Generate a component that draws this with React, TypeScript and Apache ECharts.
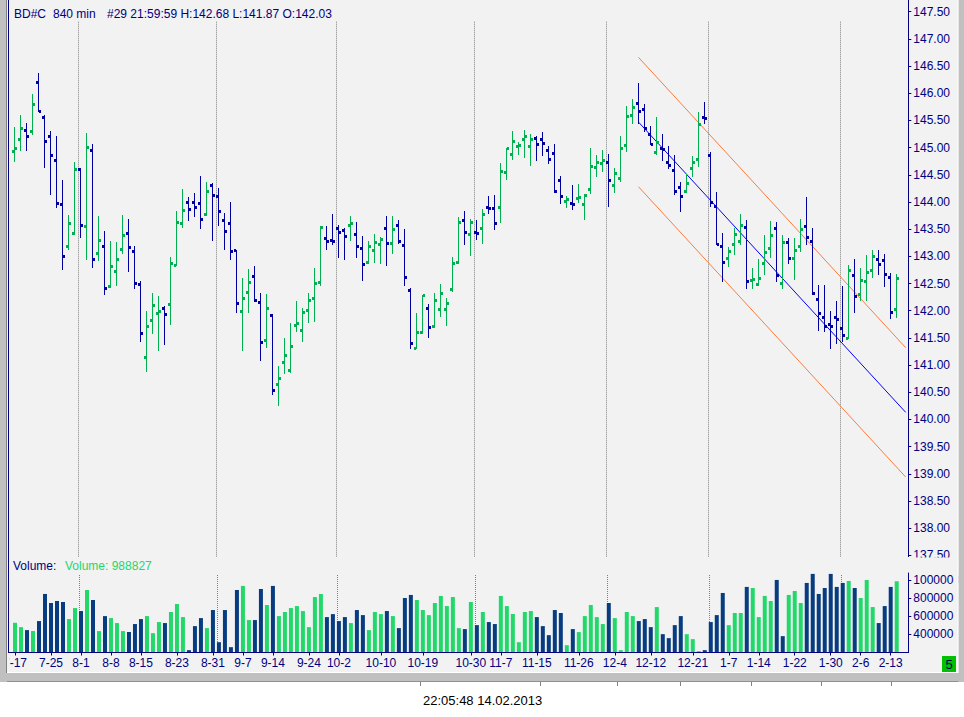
import React, { useEffect, useRef } from "react";
import * as echarts from "echarts";

// ---------- data ----------
const opens = [
  144.93, 145.15, 145.32, 145.30, 146.20, 145.56, 145.21, 144.77, 143.96, 143.18,
  143.42, 144.60, 143.55, 144.95, 143.06, 143.18, 142.45, 142.72, 143.13, 143.42,
  143.09, 142.49, 141.14, 141.82, 141.95, 142.04, 142.12, 142.83, 143.61, 143.99,
  143.99, 143.98, 143.77, 144.31, 144.10, 143.66, 143.61, 143.11, 141.99, 142.34,
  142.63, 142.15, 141.45, 141.91, 140.65, 141.05, 140.90, 141.73, 141.64, 142.01,
  142.23, 142.52, 143.33, 143.30, 143.52, 143.48, 143.57, 143.40, 143.15, 142.89,
  143.11, 143.22, 143.52, 143.24, 143.57, 143.20, 142.37, 141.31, 141.59, 142.04,
  141.70, 142.03, 142.03, 142.39, 142.89, 143.65, 143.40, 143.44, 143.52, 143.90,
  143.88, 143.90, 144.55, 144.88, 145.02, 145.15, 145.02, 145.17, 145.15, 144.95,
  144.89, 144.40, 144.01, 143.98, 144.07, 143.96, 144.23, 144.64, 144.71, 144.73,
  144.31, 144.44, 145.04, 145.59, 145.81, 145.70, 145.24, 144.91, 144.99, 144.73,
  144.58, 144.27, 144.20, 144.62, 144.78, 145.56, 144.86, 143.92, 143.18, 142.96,
  143.22, 143.28, 143.53, 142.55, 142.49, 142.87, 143.15, 143.52, 142.50, 143.26,
  142.96, 143.18, 143.55, 143.28, 142.21, 141.88, 141.75, 141.88, 141.68, 141.49,
  142.65, 142.30, 142.54, 142.74, 142.95, 142.93, 142.61, 142.03,
];
const highs = [
  145.38, 145.60, 145.45, 145.99, 146.37, 145.60, 145.31, 145.22, 144.40, 143.76,
  144.74, 144.62, 145.27, 145.07, 143.74, 143.47, 143.28, 143.27, 143.76, 143.69,
  143.19, 142.55, 141.99, 142.33, 142.27, 142.09, 142.98, 143.83, 144.24, 144.09,
  144.16, 144.48, 144.37, 144.34, 144.26, 143.80, 144.00, 143.12, 142.60, 142.77,
  142.82, 142.33, 142.31, 141.94, 140.98, 141.50, 141.77, 142.18, 142.05, 142.33,
  142.78, 143.56, 143.56, 143.78, 143.58, 143.52, 143.74, 143.63, 143.37, 143.28,
  143.41, 143.36, 143.74, 143.74, 143.67, 143.50, 142.41, 141.96, 142.29, 142.12,
  142.33, 142.49, 142.23, 142.99, 143.72, 143.83, 143.69, 143.67, 143.87, 144.11,
  144.13, 144.72, 144.99, 145.31, 145.10, 145.32, 145.25, 145.21, 145.29, 145.03,
  145.07, 144.48, 144.11, 144.31, 144.33, 144.15, 144.99, 144.86, 144.96, 144.88,
  144.62, 145.21, 145.77, 145.89, 146.19, 145.80, 145.40, 145.56, 145.25, 145.03,
  144.86, 144.37, 144.52, 144.85, 145.65, 145.84, 144.92, 144.18, 143.43, 143.18,
  143.53, 143.78, 143.66, 142.78, 142.95, 143.40, 143.65, 143.63, 143.40, 143.33,
  143.33, 143.69, 144.09, 143.52, 142.47, 142.47, 141.99, 142.17, 142.45, 142.84,
  142.95, 142.78, 143.02, 143.11, 143.11, 143.05, 142.69, 142.68,
];
const lows = [
  144.74, 144.94, 144.94, 145.24, 145.66, 144.63, 144.13, 143.88, 142.75, 143.11,
  143.40, 143.34, 142.93, 142.79, 142.91, 142.28, 142.42, 142.46, 143.05, 142.72,
  142.39, 141.43, 140.88, 141.57, 141.25, 141.37, 141.74, 142.82, 143.53, 143.65,
  143.72, 143.50, 143.75, 143.29, 143.56, 143.12, 142.94, 141.96, 141.26, 141.96,
  142.16, 141.08, 141.32, 140.44, 140.25, 140.84, 140.86, 141.61, 141.43, 141.78,
  141.80, 142.46, 143.12, 143.20, 142.96, 142.94, 143.29, 142.97, 142.55, 142.86,
  142.88, 142.86, 142.83, 143.05, 143.23, 142.46, 141.29, 141.29, 141.57, 141.50,
  141.69, 141.89, 141.72, 142.35, 142.86, 143.20, 143.01, 143.30, 143.23, 143.78,
  143.49, 143.62, 144.41, 144.78, 144.87, 144.81, 144.67, 144.76, 144.85, 144.70,
  144.17, 143.97, 143.88, 143.86, 143.99, 143.67, 144.15, 144.46, 144.56, 143.91,
  144.17, 144.37, 144.92, 145.44, 145.44, 145.29, 145.05, 144.87, 144.76, 144.61,
  144.13, 143.82, 144.17, 144.46, 144.65, 145.44, 143.91, 143.21, 142.53, 142.81,
  143.03, 143.21, 142.40, 142.39, 142.46, 142.66, 142.97, 142.53, 142.40, 142.86,
  142.56, 143.08, 143.20, 142.29, 141.63, 141.61, 141.30, 141.38, 141.43, 141.48,
  141.96, 142.17, 142.17, 142.61, 142.65, 142.43, 141.85, 141.87,
];
const closes = [
  144.99, 145.35, 145.21, 145.80, 145.67, 145.12, 144.85, 143.98, 143.00, 143.61,
  144.60, 143.57, 145.01, 142.95, 143.29, 142.41, 142.82, 142.95, 143.39, 143.17,
  142.50, 141.58, 141.71, 142.10, 141.99, 141.93, 142.87, 143.63, 143.85, 143.86,
  143.90, 143.68, 144.20, 144.12, 143.83, 143.46, 143.09, 142.14, 142.23, 142.52,
  142.19, 141.42, 142.04, 140.54, 140.76, 141.18, 141.34, 141.77, 141.97, 142.19,
  142.50, 143.53, 143.28, 143.27, 143.44, 143.37, 143.61, 143.18, 142.85, 143.18,
  143.26, 143.31, 143.24, 143.50, 143.28, 142.61, 141.40, 141.60, 142.28, 141.69,
  142.19, 142.32, 142.14, 142.87, 143.63, 143.44, 143.63, 143.42, 143.77, 143.88,
  143.61, 144.56, 144.99, 145.12, 145.04, 145.21, 145.15, 145.06, 145.08, 144.78,
  144.19, 144.10, 144.05, 143.96, 144.09, 144.12, 144.66, 144.73, 144.77, 144.40,
  144.53, 144.99, 145.58, 145.74, 145.67, 145.35, 145.06, 145.10, 144.97, 144.67,
  144.20, 144.10, 144.34, 144.73, 145.43, 145.54, 143.99, 143.22, 142.89, 143.09,
  143.40, 143.57, 142.53, 142.57, 142.60, 143.07, 143.39, 142.64, 143.26, 142.96,
  143.11, 143.50, 143.35, 142.31, 141.94, 141.71, 141.71, 141.84, 141.55, 142.74,
  142.26, 142.56, 142.71, 143.00, 142.85, 142.67, 141.97, 142.59,
];
const volumes = [
  529000, 481000, 448000, 437000, 548000, 848000, 748000, 770000, 759000, 570000,
  692000, 659000, 892000, 781000, 437000, 603000, 581000, 526000, 437000, 426000,
  515000, 570000, 603000, 414000, 537000, 526000, 648000, 737000, 592000, 226000,
  492000, 581000, 470000, 670000, 314000, 670000, 259000, 892000, 937000, 559000,
  559000, 903000, 726000, 937000, 603000, 648000, 692000, 714000, 659000, 481000,
  814000, 848000, 592000, 625000, 548000, 592000, 526000, 670000, 614000, 448000,
  648000, 625000, 659000, 603000, 470000, 803000, 837000, 781000, 670000, 614000,
  748000, 826000, 714000, 814000, 470000, 459000, 759000, 503000, 648000, 537000,
  515000, 826000, 714000, 625000, 314000, 648000, 659000, 592000, 492000, 392000,
  670000, 637000, 281000, 459000, 426000, 603000, 726000, 592000, 515000, 748000,
  581000, 226000, 648000, 603000, 548000, 570000, 481000, 703000, 403000, 359000,
  503000, 603000, 403000, 348000, 215000, 226000, 537000, 614000, 859000, 503000,
  637000, 637000, 926000, 914000, 592000, 826000, 770000, 1003000, 381000, 837000,
  881000, 748000, 970000, 1070000, 848000, 914000, 1070000, 926000, 970000, 992000,
  914000, 803000, 1003000, 703000, 526000, 714000, 926000, 988827,
];
// g = green (up) volume bar, b = blue (down) volume bar
const volumeSide =
  "ggbgbbbbbg" + "gbgbgbgggb" + "bbgggbgggb" + "bbgbbbbbgg" + "bbgbgggggg" +
  "ggbbbbgbbg" + "ggbgbbbggg" + "gggggbgbgb" + "bggggggbbb" + "bbgbgggggb" +
  "ggggbbbgbb" + "bbgggbbbbg" + "ggbggggbbg" + "ggbbbbbbbg" + "bgggbbbg";

const tickIdx = [0, 6, 11, 16, 21, 27, 33, 38, 43, 49, 54, 61, 68, 76, 81, 87, 94, 100, 106, 113, 119, 124, 130, 136, 141, 146];
const tickLabels = ["7-17", "7-25", "8-1", "8-8", "8-15", "8-23", "8-31", "9-7", "9-14", "9-24", "10-2", "10-10", "10-19", "10-30", "11-7", "11-15", "11-26", "12-4", "12-12", "12-21", "1-7", "1-14", "1-22", "1-30", "2-6", "2-13"];
const monthStarts = [11, 34, 54, 77, 99, 116, 138];

const channelStart = 104;
const channelEnd = 148.5;
const channelUpper = [146.66, 141.32];
const channelMid = [145.47, 140.13];
const channelLower = [144.28, 138.94];

const priceTicks = { min: 137.5, max: 147.5, step: 0.5 };
const volumeTicks = { min: 200000, max: 1080000, step: 200000 };

// ---------- styles ----------
const FONT = "'Liberation Sans', Arial, sans-serif";
const NAVY = "#000080";
const BG = "#f2f2f2";
const FRAME = "#c0c0c0";
const PRICE_UP = "#00b050";
const PRICE_DOWN = "#0000a0";
const VOL_UP = "#22d86a";
const VOL_DOWN = "#083c80";
const ORANGE = "#ff7a3a";
const CH_BLUE = "#0000ff";

const N = closes.length;
const categories = Array.from({ length: N + 1 }, (_, i) => {
  const k = tickIdx.indexOf(i);
  return k >= 0 ? tickLabels[k] : "#" + i;
});
const tickSet = new Set(tickIdx);
const last = N - 1;

const ohlcData = opens.map((o, i) => [i, o, highs[i], lows[i], closes[i]]);

const renderOhlc = (params: any, api: any) => {
  const i = api.value(0);
  const o = api.value(1);
  const h = api.value(2);
  const l = api.value(3);
  const c = api.value(4);
  const top = api.coord([i, h]);
  const bot = api.coord([i, l]);
  const yo = api.coord([i, o])[1];
  const yc = api.coord([i, c])[1];
  const x = Math.floor(top[0]);
  const color = c >= o ? PRICE_UP : PRICE_DOWN;
  const y1 = Math.round(top[1]);
  const y2 = Math.max(Math.round(bot[1]), y1 + 1);
  return {
    type: "group",
    children: [
      { type: "rect", shape: { x, y: y1, width: 1, height: y2 - y1 }, style: { fill: color } },
      { type: "rect", shape: { x: x - 2, y: Math.round(yo - 1.5), width: 2, height: 3 }, style: { fill: color } },
      { type: "rect", shape: { x: x + 1, y: Math.round(yc - 1.5), width: 2, height: 3 }, style: { fill: color } },
    ],
  };
};

const makeMonthRender = (topPad: number, botPad: number) => (params: any, api: any) => {
  const cs = params.coordSys;
  const x = Math.floor(api.coord([api.value(0) - 0.28, 0])[0]) + 0.5;
  return {
    type: "line",
    shape: { x1: x, y1: cs.y + topPad, x2: x, y2: cs.y + cs.height + botPad },
    style: { stroke: "#808080", lineWidth: 1, lineDash: [1, 1] },
  };
};

const txt = (text: string, x: number, y: number, fill: string, size = 12, align = "left") => ({
  type: "text",
  z: 100,
  x,
  y,
  style: { text, fill, fontSize: size, fontFamily: FONT, align, verticalAlign: "middle" },
});

const gridLeft = 11;
const gridRight = 58.3;

const option: any = {
  animation: false,
  backgroundColor: "#ffffff",
  grid: [
    { left: gridLeft, right: gridRight, top: 11.7, height: 543.6 },
    { left: gridLeft, right: gridRight, top: 573, height: 79.5 },
  ],
  xAxis: [
    { type: "category", gridIndex: 0, data: categories, boundaryGap: true, show: false, axisLine: { onZero: false } },
    {
      type: "category",
      gridIndex: 1,
      data: categories,
      boundaryGap: true,
      axisLine: { onZero: false, lineStyle: { color: NAVY, width: 1 } },
      axisTick: { show: true, alignWithLabel: true, length: 3, interval: (i: number) => tickSet.has(i), lineStyle: { color: NAVY } },
      axisLabel: { interval: (i: number) => tickSet.has(i), color: NAVY, fontSize: 12, fontFamily: FONT, margin: 4 },
      splitLine: { show: false },
    },
    { type: "value", gridIndex: 0, min: -0.5, max: channelEnd, show: false, axisLine: { onZero: false } },
    { type: "value", gridIndex: 1, min: -0.5, max: channelEnd, show: false, axisLine: { onZero: false } },
  ],
  yAxis: [
    {
      type: "value",
      gridIndex: 0,
      position: "right",
      offset: 2.6,
      min: priceTicks.min,
      max: priceTicks.max,
      interval: priceTicks.step,
      axisLine: { show: true, onZero: false, lineStyle: { color: NAVY } },
      axisTick: { show: true, length: 3, lineStyle: { color: NAVY } },
      axisLabel: { color: NAVY, fontSize: 12, fontFamily: FONT, margin: 5, formatter: (v: number) => v.toFixed(2) },
      splitLine: { show: false },
    },
    {
      type: "value",
      gridIndex: 1,
      position: "right",
      offset: 2.6,
      min: volumeTicks.min,
      max: volumeTicks.max,
      interval: volumeTicks.step,
      axisLine: { show: true, onZero: false, lineStyle: { color: NAVY } },
      axisTick: { show: true, length: 3, lineStyle: { color: NAVY } },
      axisLabel: { color: NAVY, fontSize: 12, fontFamily: FONT, margin: 5, showMinLabel: false, showMaxLabel: false, formatter: (v: number) => String(v) },
      splitLine: { show: false },
    },
  ],
  series: [
    {
      type: "custom",
      xAxisIndex: 2,
      yAxisIndex: 0,
      data: monthStarts.map((m) => [m]),
      encode: { x: 0 },
      renderItem: makeMonthRender(10, 2),
      silent: true,
      z: 1,
    },
    {
      type: "custom",
      xAxisIndex: 3,
      yAxisIndex: 1,
      data: monthStarts.map((m) => [m]),
      encode: { x: 0 },
      renderItem: makeMonthRender(2, 0),
      silent: true,
      z: 1,
    },
    {
      type: "line",
      xAxisIndex: 2,
      yAxisIndex: 0,
      data: [[channelStart, channelUpper[0]], [channelEnd, channelUpper[1]]],
      symbol: "none",
      lineStyle: { color: ORANGE, width: 1 },
      silent: true,
      z: 2,
    },
    {
      type: "line",
      xAxisIndex: 2,
      yAxisIndex: 0,
      data: [[channelStart, channelLower[0]], [channelEnd, channelLower[1]]],
      symbol: "none",
      lineStyle: { color: ORANGE, width: 1 },
      silent: true,
      z: 2,
    },
    {
      type: "line",
      xAxisIndex: 2,
      yAxisIndex: 0,
      data: [[channelStart, channelMid[0]], [channelEnd, channelMid[1]]],
      symbol: "none",
      lineStyle: { color: CH_BLUE, width: 1 },
      silent: true,
      z: 2,
      markLine: {
        silent: true,
        symbol: "none",
        lineStyle: { opacity: 0 },
        label: {
          show: true,
          position: "end",
          distance: 6,
          formatter: () => closes[last].toFixed(2),
          backgroundColor: NAVY,
          color: "#ffffff",
          fontSize: 12,
          fontFamily: FONT,
          padding: [1, 2, 0, 2],
        },
        data: [{ yAxis: closes[last] }],
      },
    },
    {
      type: "custom",
      xAxisIndex: 0,
      yAxisIndex: 0,
      data: ohlcData,
      encode: { x: 0, y: [1, 2, 3, 4] },
      renderItem: renderOhlc,
      silent: true,
      z: 3,
    },
    {
      type: "bar",
      xAxisIndex: 1,
      yAxisIndex: 1,
      barWidth: 4,
      data: volumes.map((v, i) => ({ value: v, itemStyle: { color: volumeSide[i] === "g" ? VOL_UP : VOL_DOWN } })),
      silent: true,
      z: 2,
    },
  ],
  graphic: [
    // backgrounds
    { type: "rect", z: -100, silent: true, shape: { x: 0, y: 0, width: 964, height: 682 }, style: { fill: FRAME } },
    { type: "rect", z: -99, silent: true, shape: { x: 7, y: 0, width: 951.5, height: 672 }, style: { fill: BG } },
    { type: "line", z: -99, silent: true, shape: { x1: 0, y1: 672.5, x2: 958.5, y2: 672.5 }, style: { stroke: "#ffffff", lineWidth: 1 } },
    { type: "line", z: -99, silent: true, shape: { x1: 0, y1: 681.5, x2: 964, y2: 681.5 }, style: { stroke: "#909090", lineWidth: 1 } },
    // covers for clipped labels
    { type: "rect", z: 100, silent: true, shape: { x: 909.5, y: 557.5, width: 49, height: 15 }, style: { fill: BG } },
    { type: "rect", z: 100, silent: true, shape: { x: 953.5, y: 574, width: 5, height: 14 }, style: { fill: BG } },
    { type: "rect", z: 100, silent: true, shape: { x: 0, y: 654, width: 9.5, height: 18 }, style: { fill: BG } },
    // frame strips
    { type: "rect", z: 101, silent: true, shape: { x: 0, y: 0, width: 7, height: 682 }, style: { fill: FRAME } },
    { type: "line", z: 101, silent: true, shape: { x1: 6.5, y1: 0, x2: 6.5, y2: 673 }, style: { stroke: "#808080", lineWidth: 1 } },
    { type: "rect", z: 101, silent: true, shape: { x: 958.5, y: 0, width: 5.5, height: 682 }, style: { fill: FRAME } },
    { type: "line", z: 101, silent: true, shape: { x1: 958, y1: 0, x2: 958, y2: 673 }, style: { stroke: "#ffffff", lineWidth: 1 } },
    // axis line extensions
    { type: "line", z: 50, silent: true, shape: { x1: 8.5, y1: 0, x2: 8.5, y2: 652.5 }, style: { stroke: NAVY, lineWidth: 1 } },
    { type: "line", z: 50, silent: true, shape: { x1: 908.5, y1: 0, x2: 908.5, y2: 557 }, style: { stroke: NAVY, lineWidth: 1 } },
    { type: "line", z: 50, silent: true, shape: { x1: 8, y1: 652.5, x2: 909, y2: 652.5 }, style: { stroke: NAVY, lineWidth: 1 } },
    // header texts
    txt("BD#C", 14, 13.5, NAVY),
    txt("840 min", 53, 13.5, NAVY),
    txt(`#29 21:59:59 H:${highs[last].toFixed(2)} L:${lows[last].toFixed(2)} O:${opens[last].toFixed(2)}`, 107, 13.5, NAVY),
    txt("Volume:", 13, 566, NAVY),
    txt(`Volume: ${volumes[last]}`, 65, 566, VOL_UP),
    // status indicator box
    { type: "rect", z: 100, silent: true, shape: { x: 942, y: 656, width: 14, height: 16 }, style: { fill: "#00c000" } },
    txt("5", 949, 664.5, "#000050", 13, "center"),
    // status bar
    txt("22:05:48 14.02.2013", 423, 700, "#000000", 13),
    ...[420, 540, 617, 680, 751, 821, 891].map((x) => ({
      type: "line",
      z: 100,
      silent: true,
      shape: { x1: x + 0.5, y1: 682, x2: x + 0.5, y2: 686 },
      style: { stroke: "#808080", lineWidth: 1 },
    })),
  ],
};

export default function App() {
  const ref = useRef<HTMLDivElement>(null);
  useEffect(() => {
    const chart = echarts.init(ref.current as HTMLDivElement, null, { renderer: "svg" });
    chart.setOption(option);
    return () => chart.dispose();
  }, []);
  return <div ref={ref} style={{ position: "absolute", left: 0, top: 0, width: 964, height: 717 }} />;
}
